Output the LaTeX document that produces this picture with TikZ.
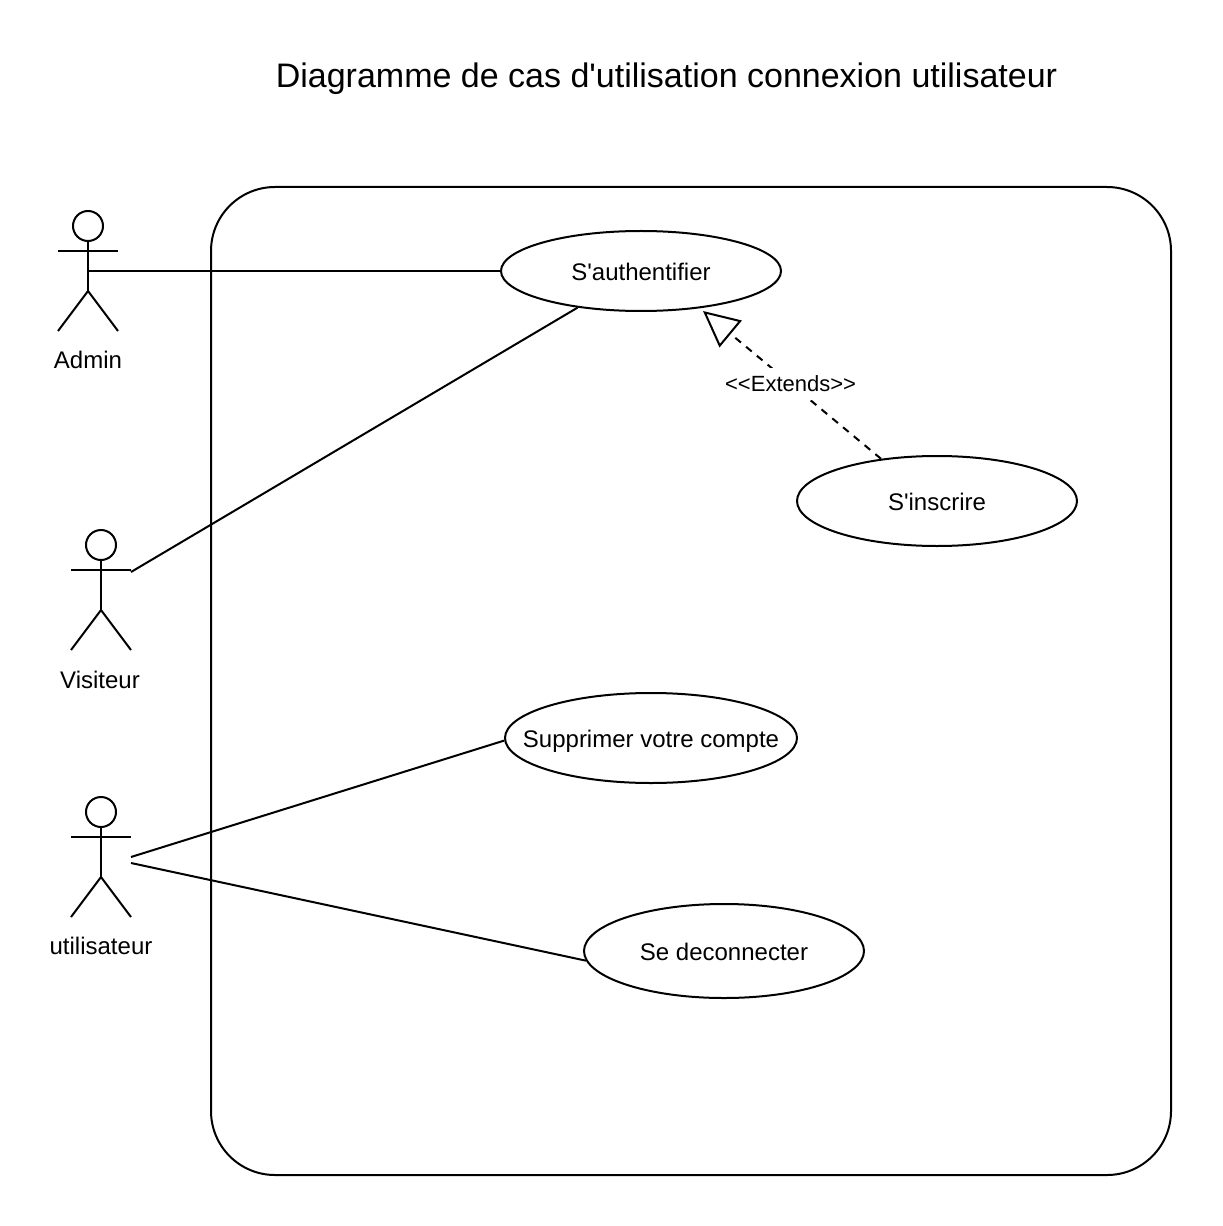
\documentclass[tikz,border=0pt]{standalone}
\usepackage{fontspec}
\setmainfont[Ligatures=TeXOff]{Liberation Sans}
\usetikzlibrary{arrows.meta,shapes.geometric}
\tikzset{
  every picture/.style={x=0.75pt,y=-0.75pt,line width=1.5pt},
  usecase/.style={draw,ellipse,fill=white,inner sep=0pt,text height=14pt,text depth=0pt,font=\fontsize{18}{22}\selectfont},
  lbl/.style={inner sep=0pt,font=\fontsize{18}{22}\selectfont},
  link/.style={line width=1.5pt},
  ext/.style={line width=1.5pt,dash pattern=on 5.5pt off 5pt,-{Triangle[open,length=27pt,width=26pt,fill=white]}},
  actor/.pic={
    \node[draw,circle,minimum size=22.5pt,inner sep=0pt,outer sep=0pt] (-head) at (0,0) {};
    \coordinate (-hip) at (0,65);
    \coordinate (-la) at (-30,25);
    \coordinate (-ra) at (30,25);
    \coordinate (-ll) at (-30,105);
    \coordinate (-rl) at (30,105);
    \draw (-head.south) -- (-hip);
    \draw (-la) -- (-ra);
    \draw (-ll) -- (-hip) -- (-rl);
  }
}
\begin{document}
\begin{tikzpicture}
\useasboundingbox (0,0) rectangle (1222,1226);
\node[inner sep=0pt,font=\fontsize{25.5}{30}\selectfont] (title) at (666.5,79) {Diagramme de cas d'utilisation connexion utilisateur};
\node[draw,rounded corners=48pt,minimum width=720pt,minimum height=741pt,inner sep=0pt,outer sep=0pt] (frame) at (691,681) {};
\pic (admin) at (88,226) {actor};
\pic (visit) at (101,545) {actor};
\pic (util) at (101,812) {actor};
\node[lbl] (ladmin) at (88,360) {Admin};
\node[lbl] (lvisit) at (100,680) {Visiteur};
\node[lbl] (lutil) at (101,946) {utilisateur};
\coordinate (padmin) at (88,271);
\coordinate (pvisit) at (131,572);
\coordinate (putila) at (131,857);
\coordinate (putilb) at (131,863);
\coordinate (tip) at (703,311);
\node[usecase,minimum width=210pt,minimum height=60pt] (auth) at (641,271) {S'authentifier};
\node[usecase,minimum width=210pt,minimum height=67.5pt] (insc) at (937,501) {S'inscrire};
\node[usecase,minimum width=219pt,minimum height=67.5pt] (supp) at (651,738) {\makebox[0pt]{Supprimer votre compte}};
\node[usecase,minimum width=210pt,minimum height=70.5pt] (deco) at (724,951) {Se deconnecter};
\draw[link] (padmin) -- (auth.west);
\draw[link] (pvisit) -- (auth.210.5);
\draw[link] (putila) -- (supp.181);
\draw[link] (putilb) -- (deco.184.5);
\draw[ext] (insc.143.5) -- node[pos=0.508,fill=white,inner xsep=1pt,inner ysep=0pt,minimum height=24pt,font=\fontsize{16.5}{20}\selectfont] (extl) {<{}<Extends>{}>} (tip);
\end{tikzpicture}
\end{document}
